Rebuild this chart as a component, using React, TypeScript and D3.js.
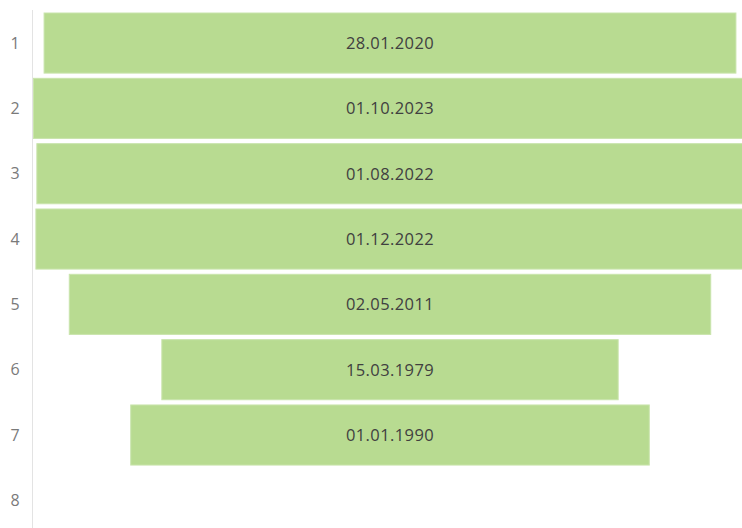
import React from 'react';
import * as d3 from 'd3';

// rows of the funnel, top to bottom
const steps = ['1', '2', '3', '4', '5', '6', '7', '8'];
const dates = ['28.01.2020', '01.10.2023', '01.08.2022', '01.12.2022', '02.05.2011', '15.03.1979', '01.01.1990', null];

const width = 742;
const height = 528;
const axisX = 32.5;
const centerX = 390;

const parse = d3.timeParse('%d.%m.%Y');

export default function App() {
  const values = dates.map(d => (d ? parse(d) : null));
  const maxDate = d3.max(values.filter(Boolean) as Date[]) as Date;

  const y = d3.scaleBand<string>()
    .domain(steps)
    .range([10.4, 533])
    .paddingInner(0.08)
    .paddingOuter(0.04);

  // bar width grows with the date, measured from 1900
  const w = d3.scaleTime()
    .domain([new Date(1900, 0, 1), maxDate])
    .range([0, 2 * (centerX - axisX) - 2]);

  const fmt = d3.timeFormat('%d.%m.%Y');

  return (
    <svg width={width} height={height} style={{ position: 'absolute', left: 0, top: 0 }}
      fontFamily="'Open Sans', sans-serif">
      <line x1={axisX} x2={axisX} y1={10} y2={height} stroke="#e3e3e3" strokeWidth={1} />
      {steps.map(s => (
        <text key={s} x={15} y={y(s)! + y.bandwidth() / 2} dy="0.36em" textAnchor="middle"
          fontSize={16} fill="#7a7a7a">{s}</text>
      ))}
      {steps.map((s, i) => {
        const v = values[i];
        if (!v) return null;
        const bw = w(v);
        return (
          <g key={'b' + s}>
            <rect x={centerX - bw / 2} y={y(s)} width={bw} height={y.bandwidth()}
              fill="#b8db91" stroke="#c9e4ac" strokeWidth={1} />
            <text x={centerX} y={y(s)! + y.bandwidth() / 2} dy="0.36em" textAnchor="middle"
              fontSize={16.5} letterSpacing={0.4} fill="#404040">{fmt(v)}</text>
          </g>
        );
      })}
    </svg>
  );
}
